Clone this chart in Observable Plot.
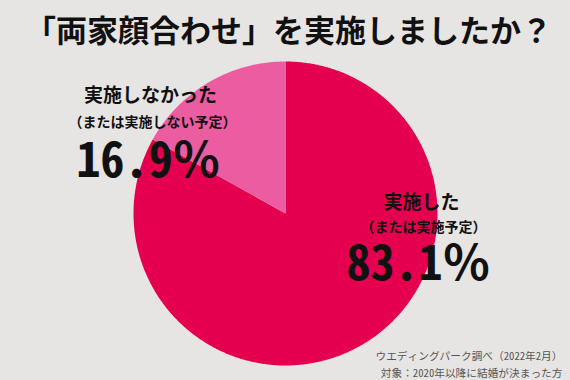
<!DOCTYPE html>
<html><head><meta charset="utf-8">
<script src="https://cdn.jsdelivr.net/npm/d3@7"></script>
<script src="https://cdn.jsdelivr.net/npm/@observablehq/plot@0.6"></script>
<style>body{margin:0;background:#e7e5e3} #chart svg{display:block}</style>
</head><body><div id="chart"></div>
<script>
const title = "「両家顔合わせ」を実施しましたか？";
const categories = ["実施した", "実施しなかった"];
const subLabels = ["（または実施予定）", "（または実施しない予定）"];
const shares = [83.1, 16.9];
const colors = ["#e4004f", "#ec5ca0"];
const sourceNotes = ["ウエディングパーク調べ（2022年2月）", "対象：2020年以降に結婚が決まった方"];

// build slice polygons from the shares (clockwise from 12 o'clock)
const total = d3.sum(shares);
const pts = [];
let start = 0;
categories.forEach((c, i) => {
  const a0 = start / total * 2 * Math.PI;
  const a1 = (start + shares[i]) / total * 2 * Math.PI;
  start += shares[i];
  pts.push({cat: c, x: 0, y: 0});
  const n = Math.max(2, Math.ceil((a1 - a0) / (Math.PI / 360)));
  for (let k = 0; k <= n; k++) {
    const a = a0 + (a1 - a0) * k / n;
    pts.push({cat: c, x: Math.sin(a), y: Math.cos(a)});
  }
  pts.push({cat: c, x: 0, y: 0});
});

const font = "'Noto Sans CJK JP', 'Noto Sans', sans-serif";
const mono = "'Noto Sans Mono CJK JP', 'Noto Sans CJK JP', 'DejaVu Sans Mono', monospace";
const T = (text, dx, dy, size, opts = {}) => Plot.text([text], {
  text: d => d, frameAnchor: "top-left", dx, dy, fontSize: size,
  fontWeight: 700, fill: "#111", textAnchor: "middle", lineAnchor: "middle", ...opts
});

const chart = Plot.plot({
  width: 570, height: 380,
  margin: 0,
  x: {domain: [-1.875, 1.875], axis: null},
  y: {domain: [-1.0987, 1.4013], axis: null},
  color: {domain: categories, range: colors},
  style: {background: "#e7e5e3", fontFamily: font},
  marks: [
    Plot.line(pts, {x: "x", y: "y", z: "cat", fill: "cat", stroke: "none", curve: "linear"}),
    T(title, 288, 32, 31),
    T(categories[1], 150, 95, 19),
    T(subLabels[1], 152, 122, 14, {letterSpacing: "1px"}),
    T(`${shares[1]}％`, 148, 161, 48, {fontFamily: mono}),
    T(categories[0], 421, 202, 19),
    T(subLabels[0], 423, 227, 14, {letterSpacing: "1px"}),
    T(`${shares[0]}％`, 418, 264, 48, {fontFamily: mono}),
    T(sourceNotes[0], 562, 356, 10.7, {textAnchor: "end", fontWeight: 400, fill: "#555", fontFamily: mono}),
    T(sourceNotes[1], 562, 373, 10.7, {textAnchor: "end", fontWeight: 400, fill: "#555", fontFamily: mono})
  ]
});
document.getElementById("chart").appendChild(chart);
</script></body></html>
